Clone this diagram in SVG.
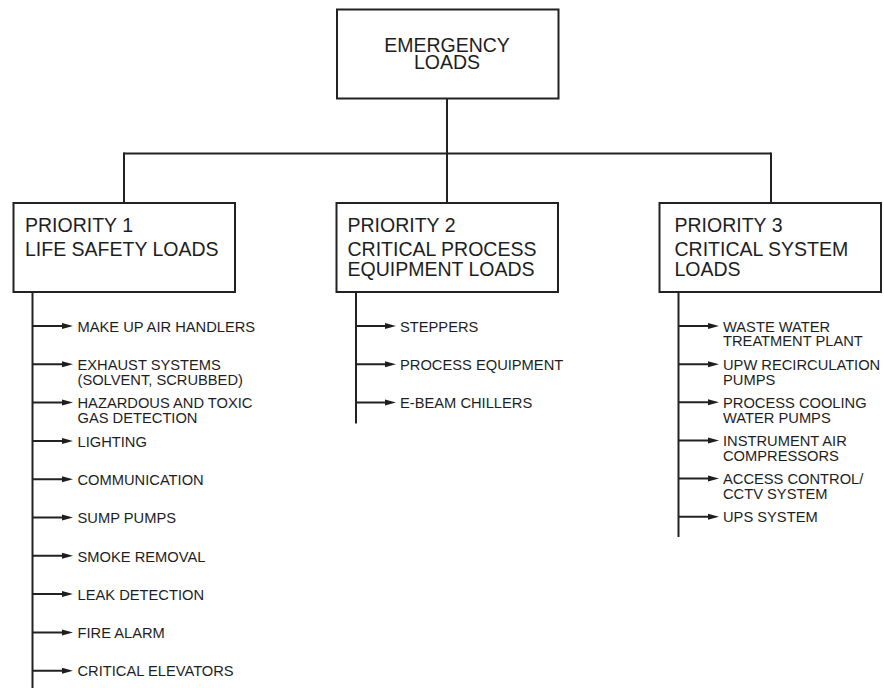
<svg xmlns="http://www.w3.org/2000/svg" width="884" height="688" viewBox="0 0 884 688">
  <style>
    .box { fill: #ffffff; stroke: #222222; stroke-width: 2; }
    .wire { fill: none; stroke: #222222; stroke-width: 2; }
    .head { font-family: "Liberation Sans", Arial, sans-serif; font-size: 19.5px; fill: #1e1e1e; }
    .item { font-family: "Liberation Sans", Arial, sans-serif; font-size: 14.7px; fill: #1e1e1e; }
  </style>
  <defs>
    <marker id="arrow" markerUnits="userSpaceOnUse" markerWidth="12" markerHeight="8" refX="5" refY="3.5" orient="auto">
      <path d="M0,0.5 L11,3.5 L0,6.5 z" fill="#1e1e1e"/>
    </marker>
  </defs>
  <rect width="884" height="688" fill="#ffffff"/>

  <!-- connectors -->
  <g id="connectors" class="wire">
    <!-- top-level tree -->
    <line x1="447" y1="98" x2="447" y2="203"/>
    <line x1="123.5" y1="153.5" x2="771" y2="153.5"/>
    <line x1="124" y1="152.5" x2="124" y2="203"/>
    <line x1="771" y1="152.5" x2="771" y2="203"/>

    <!-- priority 1 trunk and branches -->
    <line x1="32.5" y1="292" x2="32.5" y2="688"/>
    <g marker-end="url(#arrow)">
      <line x1="32.5" y1="326" x2="67" y2="326"/>
      <line x1="32.5" y1="364.3" x2="67" y2="364.3"/>
      <line x1="32.5" y1="402.6" x2="67" y2="402.6"/>
      <line x1="32.5" y1="440.9" x2="67" y2="440.9"/>
      <line x1="32.5" y1="479.2" x2="67" y2="479.2"/>
      <line x1="32.5" y1="517.5" x2="67" y2="517.5"/>
      <line x1="32.5" y1="555.8" x2="67" y2="555.8"/>
      <line x1="32.5" y1="594.1" x2="67" y2="594.1"/>
      <line x1="32.5" y1="632.4" x2="67" y2="632.4"/>
      <line x1="32.5" y1="670.7" x2="67" y2="670.7"/>
    </g>

    <!-- priority 2 trunk and branches -->
    <line x1="356" y1="292" x2="356" y2="423.5"/>
    <g marker-end="url(#arrow)">
      <line x1="356" y1="326" x2="390" y2="326"/>
      <line x1="356" y1="364.3" x2="390" y2="364.3"/>
      <line x1="356" y1="402.6" x2="390" y2="402.6"/>
    </g>

    <!-- priority 3 trunk and branches -->
    <line x1="678.5" y1="292" x2="678.5" y2="537"/>
    <g marker-end="url(#arrow)">
      <line x1="678.5" y1="326" x2="713" y2="326"/>
      <line x1="678.5" y1="364.2" x2="713" y2="364.2"/>
      <line x1="678.5" y1="402.3" x2="713" y2="402.3"/>
      <line x1="678.5" y1="440.4" x2="713" y2="440.4"/>
      <line x1="678.5" y1="478.5" x2="713" y2="478.5"/>
      <line x1="678.5" y1="516.7" x2="713" y2="516.7"/>
    </g>
  </g>

  <!-- root -->
  <g id="emergency-loads">
    <rect class="box" x="337" y="9.5" width="221.5" height="89"/>
    <text class="head" x="447" y="51.7" text-anchor="middle">EMERGENCY</text>
    <text class="head" x="447" y="69" text-anchor="middle">LOADS</text>
  </g>

  <!-- priority boxes -->
  <g id="priority-1">
    <rect class="box" x="13.5" y="203" width="221.5" height="89"/>
    <text class="head" x="25" y="231.7">PRIORITY 1</text>
    <text class="head" x="25" y="256">LIFE SAFETY LOADS</text>
  </g>
  <g id="priority-2">
    <rect class="box" x="336.5" y="203" width="221.5" height="89"/>
    <text class="head" x="347.5" y="231.7">PRIORITY 2</text>
    <text class="head" x="347.5" y="256">CRITICAL PROCESS</text>
    <text class="head" x="347.5" y="275.5">EQUIPMENT LOADS</text>
  </g>
  <g id="priority-3">
    <rect class="box" x="659.5" y="203" width="221.5" height="89"/>
    <text class="head" x="674.5" y="231.7">PRIORITY 3</text>
    <text class="head" x="674.5" y="256">CRITICAL SYSTEM</text>
    <text class="head" x="674.5" y="275.5">LOADS</text>
  </g>

  <!-- priority 1 loads -->
  <g id="p1-loads" class="item">
    <text x="77.5" y="331.7">MAKE UP AIR HANDLERS</text>
    <text x="77.5" y="370">EXHAUST SYSTEMS</text>
    <text x="77.5" y="384.7">(SOLVENT, SCRUBBED)</text>
    <text x="77.5" y="408.3">HAZARDOUS AND TOXIC</text>
    <text x="77.5" y="423">GAS DETECTION</text>
    <text x="77.5" y="446.6">LIGHTING</text>
    <text x="77.5" y="484.9">COMMUNICATION</text>
    <text x="77.5" y="523.2">SUMP PUMPS</text>
    <text x="77.5" y="561.5">SMOKE REMOVAL</text>
    <text x="77.5" y="599.8">LEAK DETECTION</text>
    <text x="77.5" y="638.1">FIRE ALARM</text>
    <text x="77.5" y="676.4">CRITICAL ELEVATORS</text>
  </g>

  <!-- priority 2 loads -->
  <g id="p2-loads" class="item">
    <text x="400" y="331.7">STEPPERS</text>
    <text x="400" y="370">PROCESS EQUIPMENT</text>
    <text x="400" y="408.3">E-BEAM CHILLERS</text>
  </g>

  <!-- priority 3 loads -->
  <g id="p3-loads" class="item">
    <text x="723" y="331.7">WASTE WATER</text>
    <text x="723" y="346.4">TREATMENT PLANT</text>
    <text x="723" y="369.9">UPW RECIRCULATION</text>
    <text x="723" y="384.6">PUMPS</text>
    <text x="723" y="408">PROCESS COOLING</text>
    <text x="723" y="422.7">WATER PUMPS</text>
    <text x="723" y="446.1">INSTRUMENT AIR</text>
    <text x="723" y="460.8">COMPRESSORS</text>
    <text x="723" y="484.2">ACCESS CONTROL/</text>
    <text x="723" y="498.9">CCTV SYSTEM</text>
    <text x="723" y="522.4">UPS SYSTEM</text>
  </g>
</svg>
